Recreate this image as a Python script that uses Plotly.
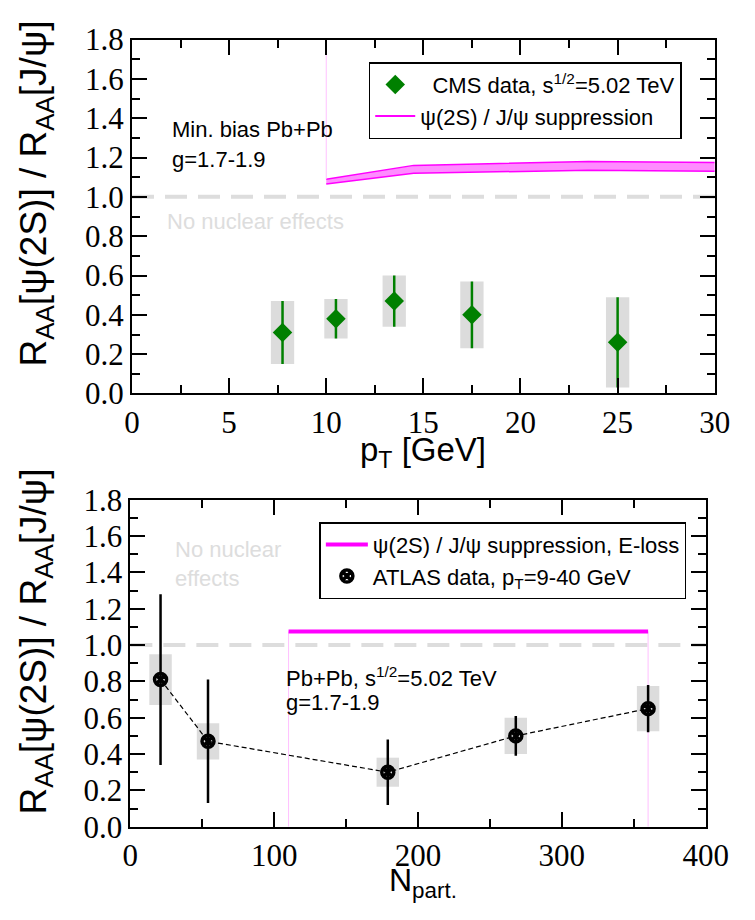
import plotly.graph_objects as go
import numpy as np

# ---------------- data ----------------
# Top panel: CMS psi(2S)/J/psi double ratio vs pT
cms_pt = [7.75, 10.5, 13.5, 17.5, 25.0]
cms_ratio = [0.31, 0.38, 0.47, 0.40, 0.26]
cms_stat = [0.16, 0.10, 0.13, 0.17, 0.23]
cms_syst = [0.16, 0.10, 0.13, 0.17, 0.23]

# Top panel: model band (psi(2S)/J/psi suppression)
band_pt = [10.0, 14.5, 23.5, 30.0]
band_lo = [1.065, 1.12, 1.135, 1.13]
band_hi = [1.09, 1.16, 1.18, 1.175]

# Bottom panel: ATLAS vs Npart
atlas_npart = [21, 54, 179, 268, 360]
atlas_ratio = [0.81, 0.47, 0.30, 0.50, 0.65]
atlas_stat = [0.47, 0.34, 0.18, 0.11, 0.13]
atlas_syst = [0.14, 0.10, 0.08, 0.10, 0.125]

# Bottom panel: model line (E-loss)
model_npart = [110, 360]
model_ratio = [1.075, 1.075]

top_xticks = [0, 5, 10, 15, 20, 25, 30]
bot_xticks = [0, 100, 200, 300, 400]
yticks = [0.0, 0.2, 0.4, 0.6, 0.8, 1.0, 1.2, 1.4, 1.6, 1.8]

# ---------------- style ----------------
PAGE_OFF = 8          # default body margin of the html page
W, H = 755 - PAGE_OFF, 920 - PAGE_OFF
SANS = "Liberation Sans"
SERIF = "Liberation Serif"
GREEN = "#008000"
MAGENTA = "#ff00ff"
BOXGRAY = "#dcdcdc"
LIGHT = "#dddddd"
cms_box_w = 1.2
atlas_box_w = 15.6


def px_x(p):
    return (p - PAGE_OFF) / W


def px_y(p):
    return 1 - (p - PAGE_OFF) / H


fig = go.Figure()

# --- top panel ---
cms_ratio_a = np.array(cms_ratio)
cms_syst_a = np.array(cms_syst)
fig.add_trace(go.Bar(x=cms_pt, y=2 * cms_syst_a, base=cms_ratio_a - cms_syst_a,
                     width=cms_box_w, marker=dict(color=BOXGRAY, line=dict(width=0)),
                     showlegend=False, xaxis="x", yaxis="y", hoverinfo="skip"))

# band
fig.add_trace(go.Scatter(x=band_pt, y=band_lo, mode="lines",
                         line=dict(color=MAGENTA, width=1.5), showlegend=False,
                         xaxis="x", yaxis="y"))
fig.add_trace(go.Scatter(x=band_pt, y=band_hi, mode="lines", fill="tonexty",
                         fillcolor="rgba(255,0,255,0.45)",
                         line=dict(color=MAGENTA, width=1.5), showlegend=False,
                         xaxis="x", yaxis="y"))
# thin vertical edge of the band
fig.add_trace(go.Scatter(x=[band_pt[0], band_pt[0]], y=[band_hi[0], yticks[-1]],
                         mode="lines", line=dict(color="#ffb0ff", width=0.8),
                         showlegend=False, xaxis="x", yaxis="y"))

fig.add_trace(go.Scatter(x=cms_pt, y=cms_ratio, mode="markers",
                         name="\u00a0\u00a0CMS data, s<sup>1/2</sup>=5.02 TeV",
                         marker=dict(symbol="diamond", size=15, color=GREEN),
                         error_y=dict(type="data", array=cms_stat, color=GREEN,
                                      thickness=2.5, width=0),
                         xaxis="x", yaxis="y", legend="legend"))
fig.add_trace(go.Scatter(x=[None], y=[None], mode="lines",
                         name="\u03c8(2S) / J/\u03c8 suppression",
                         line=dict(color=MAGENTA, width=2),
                         xaxis="x", yaxis="y", legend="legend"))

# --- bottom panel ---
atlas_ratio_a = np.array(atlas_ratio)
atlas_syst_a = np.array(atlas_syst)
fig.add_trace(go.Bar(x=atlas_npart, y=2 * atlas_syst_a, base=atlas_ratio_a - atlas_syst_a,
                     width=atlas_box_w, marker=dict(color=BOXGRAY, line=dict(width=0)),
                     showlegend=False, xaxis="x2", yaxis="y2", hoverinfo="skip"))
fig.add_trace(go.Scatter(x=[model_npart[0], model_npart[0]], y=[0, model_ratio[0]],
                         mode="lines", line=dict(color="#ffb0ff", width=0.8),
                         showlegend=False, xaxis="x2", yaxis="y2"))
fig.add_trace(go.Scatter(x=[model_npart[-1], model_npart[-1]], y=[0, model_ratio[-1]],
                         mode="lines", line=dict(color="#ffb0ff", width=0.8),
                         showlegend=False, xaxis="x2", yaxis="y2"))
fig.add_trace(go.Scatter(x=model_npart, y=model_ratio, mode="lines",
                         name="\u03c8(2S) / J/\u03c8 suppression, E-loss",
                         line=dict(color=MAGENTA, width=4),
                         xaxis="x2", yaxis="y2", legend="legend2"))
fig.add_trace(go.Scatter(x=atlas_npart, y=atlas_ratio, mode="lines",
                         line=dict(color="black", width=1.2, dash="5px,3px"),
                         showlegend=False, xaxis="x2", yaxis="y2"))
fig.add_trace(go.Scatter(x=atlas_npart, y=atlas_ratio, mode="markers",
                         name="ATLAS data, p<sub>T</sub>=9-40 GeV",
                         marker=dict(symbol="circle-x-open", size=12,
                                     color="black", line=dict(color="black", width=3.5)),
                         error_y=dict(type="data", array=atlas_stat, color="black",
                                      thickness=2.5, width=0),
                         xaxis="x2", yaxis="y2", legend="legend2"))

# ---------------- axes ----------------
tickfont = dict(family=SERIF, size=31, color="black")


def axis_common(**kw):
    d = dict(showline=True, linecolor="black", linewidth=2, mirror="ticks",
             ticks="inside", ticklen=15, tickwidth=2, tickcolor="black",
             showgrid=False, zeroline=False, tickfont=tickfont)
    d.update(kw)
    return d


fig.update_layout(
    width=W, height=H,
    margin=dict(l=0, r=0, t=0, b=0),
    paper_bgcolor="white", plot_bgcolor="white",
    barmode="overlay", showlegend=True,
    xaxis=axis_common(domain=[px_x(129), px_x(737)], range=[0, 30],
                      tickvals=top_xticks, ticktext=[str(v) for v in top_xticks],
                      minor=dict(dtick=2.5, ticks="inside", ticklen=8, tickwidth=2,
                                 tickcolor="black", showgrid=False),
                      anchor="y"),
    yaxis=axis_common(domain=[px_y(391.2), px_y(23.1)], range=[0, 1.8],
                      tickvals=yticks, ticktext=[f"{v:.1f}" for v in yticks],
                      minor=dict(dtick=0.1, ticks="inside", ticklen=8, tickwidth=2,
                                 tickcolor="black", showgrid=False),
                      anchor="x"),
    xaxis2=axis_common(domain=[px_x(127.3), px_x(727.5)], range=[0, 400],
                       tickvals=bot_xticks, ticktext=[str(v) for v in bot_xticks],
                       minor=dict(dtick=50, ticks="inside", ticklen=8, tickwidth=2,
                                  tickcolor="black", showgrid=False),
                       anchor="y2"),
    yaxis2=axis_common(domain=[px_y(841.7), px_y(501.7)], range=[0, 1.8],
                       tickvals=yticks, ticktext=[f"{v:.1f}" for v in yticks],
                       minor=dict(dtick=0.1, ticks="inside", ticklen=8, tickwidth=2,
                                  tickcolor="black", showgrid=False),
                       anchor="x2"),
    legend=dict(x=px_x(376), y=px_y(46.7), xanchor="left", yanchor="top",
                bordercolor="black", borderwidth=1.5, bgcolor="white",
                font=dict(family=SANS, size=22, color="black"),
                itemwidth=40, tracegroupgap=0, traceorder="normal"),
    legend2=dict(x=px_x(324.5), y=px_y(525), xanchor="left", yanchor="top",
                 bordercolor="black", borderwidth=1.5, bgcolor="white",
                 font=dict(family=SANS, size=22, color="black"),
                 itemwidth=42, tracegroupgap=0, traceorder="normal"),
)

# reference lines at ratio = 1
for xr, yr in (("x domain", "y"), ("x2 domain", "y2")):
    fig.add_shape(type="line", xref=xr, yref=yr, x0=0, x1=1, y0=1, y1=1,
                  line=dict(color=LIGHT, width=4, dash="22px,11px"), layer="below")


# ---------------- text ----------------
def note(text, x, y, size=22, color="black", xanchor="left", family=SANS, angle=0,
         align="left"):
    fig.add_annotation(text=text, x=px_x(x), y=px_y(y), xref="paper", yref="paper",
                       xanchor=xanchor, yanchor="middle", showarrow=False, align=align,
                       textangle=angle, font=dict(family=family, size=size, color=color))


note("Min. bias Pb+Pb", 168.6, 117)
note("g=1.7-1.9", 168.6, 148)
note("No nuclear effects", 163.7, 212, color=LIGHT)
note("No nuclear<br>effects", 171.4, 568, color=LIGHT)
note("Pb+Pb, s<sup>1/2</sup>=5.02 TeV", 288, 686)
note("g=1.7-1.9", 288, 713)

ytitle = "R<sub>AA</sub>[\u03c8(2S)] / R<sub>AA</sub>[J/\u03c8]"
note(ytitle, 29, 183, size=37, xanchor="center", angle=-90)
note(ytitle, 29, 649, size=37, xanchor="center", angle=-90)
note("p<sub>T</sub> [GeV]", 433, 452, size=33, xanchor="center")
note("N<sub>part.</sub>", 432.5, 900, size=32, xanchor="center")

fig.write_html("out.html")
